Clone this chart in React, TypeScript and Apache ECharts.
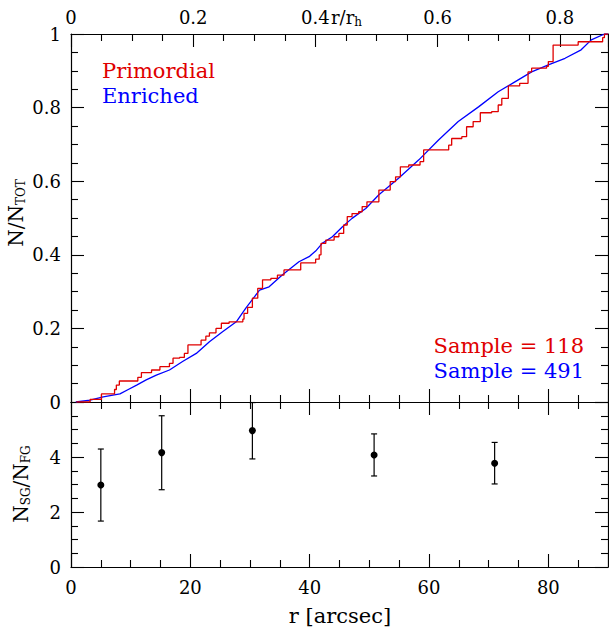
import React, { useEffect, useRef } from "react";
import * as echarts from "echarts";

// ---------- data ----------
const R_HALF = 102.4; // arcsec, r_h
const X_MAX = 90;

// cumulative distribution, Primordial (118 stars): [r arcsec, N/N_tot]
const primordial: [number, number][] = [
  [0.9, 0], [3.2, 0.007], [5.1, 0.022], [7.3, 0.034], [7.6, 0.046], [8.1, 0.057],
  [11.2, 0.067], [11.8, 0.08], [13.5, 0.087], [14.9, 0.096], [16.5, 0.105], [17.1, 0.119],
  [18.2, 0.121], [19.0, 0.132], [19.6, 0.155], [21.8, 0.168], [22.6, 0.179], [23.2, 0.188],
  [24.3, 0.2], [25.2, 0.214], [26.5, 0.218], [28.8, 0.225], [29.0, 0.241], [29.6, 0.257],
  [30.4, 0.282], [31.3, 0.309], [32.1, 0.332], [33.5, 0.336], [34.6, 0.345], [35.7, 0.359],
  [38.5, 0.378], [41.0, 0.388], [41.6, 0.4], [41.9, 0.431], [42.7, 0.44], [44.1, 0.449],
  [44.9, 0.458], [45.7, 0.481], [46.3, 0.504], [47.1, 0.512], [48.2, 0.517], [48.8, 0.531],
  [49.6, 0.544], [51.6, 0.576], [53.5, 0.599], [54.4, 0.612], [55.2, 0.639], [56.6, 0.644],
  [58.5, 0.653], [59.1, 0.685], [63.3, 0.698], [63.8, 0.716], [65.5, 0.721], [66.3, 0.748],
  [67.4, 0.762], [68.6, 0.786], [70.5, 0.789], [71.6, 0.807], [72.2, 0.825], [73.3, 0.859],
  [75.2, 0.866], [76.6, 0.897], [77.2, 0.907], [79.7, 0.912], [80.0, 0.925], [80.8, 0.97],
  [85.0, 0.979], [89.1, 0.99], [89.4, 1.0], [90, 1.0],
];

// cumulative distribution, Enriched (491 stars)
const enriched: [number, number][] = [
  [0.8, 0], [3.2, 0.005], [5.4, 0.014], [8.2, 0.022], [9.6, 0.034], [11.0, 0.046],
  [12.6, 0.06], [14.3, 0.073], [16.5, 0.087], [18.7, 0.11], [21.0, 0.132], [23.2, 0.164],
  [25.4, 0.191], [27.7, 0.218], [29.3, 0.255], [31.6, 0.304], [33.2, 0.313], [35.4, 0.345],
  [38.2, 0.381], [39.9, 0.395], [41.0, 0.41], [42.1, 0.431], [43.8, 0.449], [45.5, 0.476],
  [47.1, 0.499], [49.4, 0.526], [51.6, 0.563], [54.9, 0.608], [58.3, 0.658], [61.6, 0.712],
  [64.9, 0.762], [68.3, 0.802], [71.6, 0.843], [74.4, 0.87], [77.2, 0.897], [80.0, 0.916],
  [82.8, 0.934], [85.5, 0.957], [87.2, 0.984], [89.4, 1.0], [90, 1.0],
];

// N_SG / N_FG ratio per radial bin
const ratioR = [5.0, 15.2, 30.4, 50.8, 71.0];
const ratioVal = [2.98, 4.16, 4.96, 4.07, 3.77];
const ratioLo = [1.67, 2.81, 3.93, 3.31, 3.02];
const ratioHi = [4.29, 5.5, 5.98, 4.84, 4.53];

const labelsPrimordial = ["Primordial", "Sample = 118"];
const labelsEnriched = ["Enriched", "Sample = 491"];

// ---------- styling ----------
const FONT = '"DejaVu Serif", serif';
const RED = "#e00000";
const BLUE = "#0000ff";
const G_LEFT = 71;
const G_WIDTH = 537;

const axisBase = (extra: any) => ({
  type: "value",
  axisLine: { show: true, onZero: false, lineStyle: { color: "#000", width: 1.2 } },
  axisTick: { show: true, inside: true, length: 13, lineStyle: { color: "#000", width: 1.1 } },
  minorTick: { show: true, splitNumber: 4, length: 7, lineStyle: { color: "#000", width: 1.1 } },
  splitLine: { show: false },
  minorSplitLine: { show: false },
  axisLabel: { show: false },
  ...extra,
});

const labelStyle = (extra: any = {}) => ({
  show: true,
  color: "#000",
  fontSize: 18,
  fontFamily: FONT,
  margin: 9,
  ...extra,
});

const option: any = {
  animation: false,
  backgroundColor: "#fff",
  grid: [
    { left: G_LEFT, top: 34, width: G_WIDTH, height: 368 },
    { left: G_LEFT, top: 402, width: G_WIDTH, height: 165 },
  ],
  xAxis: [
    axisBase({ gridIndex: 0, position: "bottom", min: 0, max: X_MAX, interval: 20 }),
    axisBase({
      gridIndex: 0,
      position: "top",
      min: 0,
      max: X_MAX / R_HALF,
      interval: 0.2,
      axisLabel: labelStyle({ showMaxLabel: false, margin: 8 }),
    }),
    axisBase({
      gridIndex: 1,
      position: "bottom",
      min: 0,
      max: X_MAX,
      interval: 20,
      axisLabel: labelStyle({ showMaxLabel: false, margin: 11 }),
    }),
    axisBase({ gridIndex: 1, position: "top", min: 0, max: X_MAX, interval: 20 }),
  ],
  yAxis: [
    axisBase({
      gridIndex: 0,
      position: "left",
      min: 0,
      max: 1,
      interval: 0.2,
      axisLabel: labelStyle({ margin: 10 }),
    }),
    axisBase({ gridIndex: 0, position: "right", min: 0, max: 1, interval: 0.2 }),
    axisBase({
      gridIndex: 1,
      position: "left",
      min: 0,
      max: 6,
      interval: 2,
      axisLabel: labelStyle({ margin: 10, showMaxLabel: false }),
    }),
    axisBase({ gridIndex: 1, position: "right", min: 0, max: 6, interval: 2 }),
  ],
  series: [
    {
      name: "Enriched",
      type: "line",
      xAxisIndex: 0,
      yAxisIndex: 0,
      data: enriched,
      symbol: "none",
      showSymbol: false,
      lineStyle: { color: BLUE, width: 1.3 },
      z: 2,
    },
    {
      name: "Primordial",
      type: "line",
      xAxisIndex: 0,
      yAxisIndex: 0,
      data: primordial,
      step: "end",
      symbol: "none",
      showSymbol: false,
      lineStyle: { color: RED, width: 1.3 },
      z: 3,
    },
    {
      name: "ratio",
      type: "custom",
      xAxisIndex: 2,
      yAxisIndex: 2,
      data: ratioR.map((r, i) => [r, ratioVal[i], ratioLo[i], ratioHi[i]]),
      renderItem: (_params: any, api: any) => {
        const x = api.value(0);
        const pc = api.coord([x, api.value(1)]);
        const pl = api.coord([x, api.value(2)]);
        const ph = api.coord([x, api.value(3)]);
        const cap = 3;
        const st = { stroke: "#000", lineWidth: 1.2 };
        return {
          type: "group",
          children: [
            { type: "line", shape: { x1: pl[0], y1: pl[1], x2: ph[0], y2: ph[1] }, style: st },
            { type: "line", shape: { x1: pl[0] - cap, y1: pl[1], x2: pl[0] + cap, y2: pl[1] }, style: st },
            { type: "line", shape: { x1: ph[0] - cap, y1: ph[1], x2: ph[0] + cap, y2: ph[1] }, style: st },
            { type: "circle", shape: { cx: pc[0], cy: pc[1], r: 3.5 }, style: { fill: "#000" } },
          ],
        };
      },
      z: 3,
    },
  ],
  graphic: [
    {
      type: "text",
      x: 102,
      y: 71,
      style: { text: labelsPrimordial[0], fill: RED, font: `21px ${FONT}`, align: "left", verticalAlign: "middle" },
    },
    {
      type: "text",
      x: 102,
      y: 96,
      style: { text: labelsEnriched[0], fill: BLUE, font: `21px ${FONT}`, align: "left", verticalAlign: "middle" },
    },
    {
      type: "text",
      x: 584,
      y: 346,
      style: { text: labelsPrimordial[1], fill: RED, font: `21px ${FONT}`, align: "right", verticalAlign: "middle" },
    },
    {
      type: "text",
      x: 584,
      y: 371,
      style: { text: labelsEnriched[1], fill: BLUE, font: `21px ${FONT}`, align: "right", verticalAlign: "middle" },
    },
    {
      type: "text",
      x: 340,
      y: 616,
      style: { text: "r [arcsec]", fill: "#000", font: `21px ${FONT}`, align: "center", verticalAlign: "middle" },
    },
    {
      type: "text",
      x: 331,
      y: 17,
      style: {
        text: "{m|r/r}{s|h}",
        align: "left",
        verticalAlign: "middle",
        rich: {
          m: { fontSize: 18, fontFamily: FONT, fill: "#000" },
          s: { fontSize: 12, fontFamily: FONT, fill: "#000", padding: [9, 0, 0, 0] },
        },
      },
    },
    {
      type: "text",
      x: 16,
      y: 213,
      rotation: Math.PI / 2,
      style: {
        text: "{m|N/N}{s|TOT}",
        align: "center",
        verticalAlign: "middle",
        rich: {
          m: { fontSize: 20, fontFamily: FONT, fill: "#000" },
          s: { fontSize: 12, fontFamily: FONT, fill: "#000", padding: [10, 0, 0, 0] },
        },
      },
    },
    {
      type: "text",
      x: 21,
      y: 484,
      rotation: Math.PI / 2,
      style: {
        text: "{m|N}{s|SG}{m|/N}{s|FG}",
        align: "center",
        verticalAlign: "middle",
        rich: {
          m: { fontSize: 20, fontFamily: FONT, fill: "#000" },
          s: { fontSize: 12, fontFamily: FONT, fill: "#000", padding: [10, 0, 0, 0] },
        },
      },
    },
  ],
};

export default function App() {
  const ref = useRef<HTMLDivElement>(null);
  useEffect(() => {
    const chart = echarts.init(ref.current as HTMLDivElement, null, { renderer: "svg" });
    chart.setOption(option);
    return () => chart.dispose();
  }, []);
  return (
    <div
      ref={ref}
      style={{ position: "absolute", left: 0, top: 0, width: 609, height: 630, background: "#fff" }}
    />
  );
}
